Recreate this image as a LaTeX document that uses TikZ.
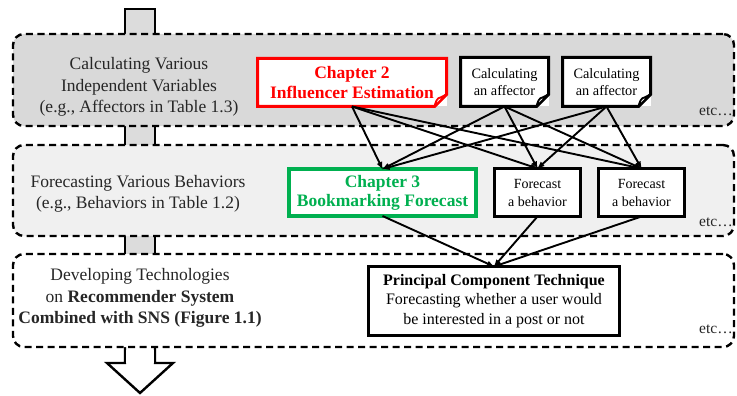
\documentclass[tikz,border=0pt]{standalone}
\usepackage{fontspec}
\setmainfont{Liberation Serif}
\usetikzlibrary{arrows.meta,calc}
\definecolor{bandA}{HTML}{D9D9D9}
\definecolor{bandB}{HTML}{F0F0F0}
\definecolor{stemgray}{HTML}{DCDCDC}
\definecolor{chred}{HTML}{FF0000}
\definecolor{chgreen}{HTML}{00B050}
\definecolor{labtext}{HTML}{262626}
\newcommand\foldcorner[2]{% name, colour
  \draw[draw=#2, line width=3pt, line join=miter]
    (#1.north west) -- (#1.north east) -- ([yshift=12pt]#1.south east)
    -- ([xshift=-12pt]#1.south east) -- (#1.south west) -- cycle;
  \draw[draw=#2, line width=1.8pt, fill=white, line join=round]
    ([xshift=-12pt]#1.south east) .. controls ([xshift=-11pt,yshift=5pt]#1.south east)
    and ([xshift=-9pt,yshift=9pt]#1.south east) .. ([xshift=-6pt,yshift=9pt]#1.south east)
    .. controls ([xshift=-3pt,yshift=10pt]#1.south east) .. ([yshift=12pt]#1.south east) -- cycle;
}
\begin{document}
\begin{tikzpicture}[x=1pt,y=-1pt,
  band/.style={draw=black, dash pattern=on 7pt off 4.5pt, line width=2.4pt,
    rounded corners=11pt, minimum width=721pt, inner sep=0pt, outer sep=0pt},
  stem/.style={draw=black, line width=2.4pt, fill=stemgray, line join=miter},
  lab/.style={align=center, text=labtext, font=\fontsize{17.5}{21.5}\selectfont},
  etcl/.style={text=labtext, font=\fontsize{15.5}{18}\selectfont, inner sep=0pt},
  fbox/.style={fill=white, draw=none, inner sep=0pt, outer sep=0pt, align=center},
  bbox/.style={fill=white, draw=black, line width=3pt, inner sep=0pt, outer sep=0pt, align=center},
  conn/.style={draw=black, line width=1.9pt, -{Latex[length=8pt,width=6pt]}, shorten >=-1pt}
]
\useasboundingbox (0,0) rectangle (737,396);

% arrow stems behind the bands
\draw[stem] (125,9) rectangle (155,40);
\draw[stem] (125,120) rectangle (155,150);
\draw[stem] (125,230) rectangle (155,258);
\draw[line width=2.4pt, fill=white, line join=miter]
  (125,340) -- (125,363) -- (107,363) -- (140,393) -- (173,363) -- (155,363) -- (155,340);

% bands
\node[band, fill=bandA, minimum height=92pt] (band1) at (373.5,80) {};
\node[band, fill=bandB, minimum height=91pt] (band2) at (373.5,190.5) {};
\node[band, fill=white, minimum height=93pt] (band3) at (373.5,300.5) {};
% stems between bands (outline sides only)
\fill[stemgray] (126.2,128.2) rectangle (153.8,142.8);
\draw[line width=2.4pt] (125,127) -- (125,144) (155,127) -- (155,144);
\fill[stemgray] (126.2,238.2) rectangle (153.8,251.8);
\draw[line width=2.4pt] (125,237) -- (125,253) (155,237) -- (155,253);
\draw[line width=2.4pt] (125,348) -- (125,363) (155,348) -- (155,363);
\fill[white] (126.2,349.5) rectangle (153.8,363);

% left labels
\node[lab] (lab1) at (139,87) {Calculating Various\\Independent Variables\\(e.g., Affectors in Table 1.3)};
\node[lab] (lab2) at (138,194) {Forecasting Various Behaviors\\(e.g., Behaviors in Table 1.2)};
\node[lab] (lab3) at (140,298) {Developing Technologies\\on \textbf{Recommender System}\\\textbf{Combined with SNS (Figure 1.1)}};

% etc
\node[etcl] (etc1) at (716,111) {etc…};
\node[etcl] (etc2) at (716,222) {etc…};
\node[etcl] (etc3) at (716,329) {etc…};

% boxes
\node[fbox, minimum width=189pt, minimum height=48pt, text=chred,
  font=\fontsize{17.5}{20}\selectfont\bfseries] (ch2) at (352,82.5) {Chapter 2\\Influencer Estimation};
\node[fbox, minimum width=88pt, minimum height=49pt,
  font=\fontsize{14.3}{17}\selectfont] (aff1) at (504.5,82) {Calculating\\an affector};
\node[fbox, minimum width=88pt, minimum height=49pt,
  font=\fontsize{14.3}{17}\selectfont] (aff2) at (606.5,82) {Calculating\\an affector};

\node[fbox, draw=chgreen, line width=3.5pt, minimum width=187pt, minimum height=47pt, text=chgreen,
  font=\fontsize{17.5}{19}\selectfont\bfseries] (ch3) at (382.5,192.5) {Chapter 3\\Bookmarking Forecast};
\node[bbox, minimum width=86pt, minimum height=48pt,
  font=\fontsize{14}{18}\selectfont] (fc1) at (537.5,192.5) {Forecast\\a behavior};
\node[bbox, minimum width=86pt, minimum height=48pt,
  font=\fontsize{14}{18}\selectfont] (fc2) at (641.5,192.5) {Forecast\\a behavior};

\node[bbox, minimum width=251pt, minimum height=69pt,
  font=\fontsize{16}{19.5}\selectfont] (pct) at (494,301)
  {\textbf{Principal Component Technique}\\Forecasting whether a user would\\be interested in a post or not};

\foldcorner{ch2}{chred}
\foldcorner{aff1}{black}
\foldcorner{aff2}{black}

% connectors
\foreach \s in {ch2,aff1,aff2}{
  \foreach \t in {ch3,fc1,fc2}{
    \draw[conn] (\s.south) -- (\t.north);
  }
}
\foreach \s in {ch3,fc1,fc2}{
  \draw[conn] (\s.south) -- (pct.north);
}
\end{tikzpicture}
\end{document}
